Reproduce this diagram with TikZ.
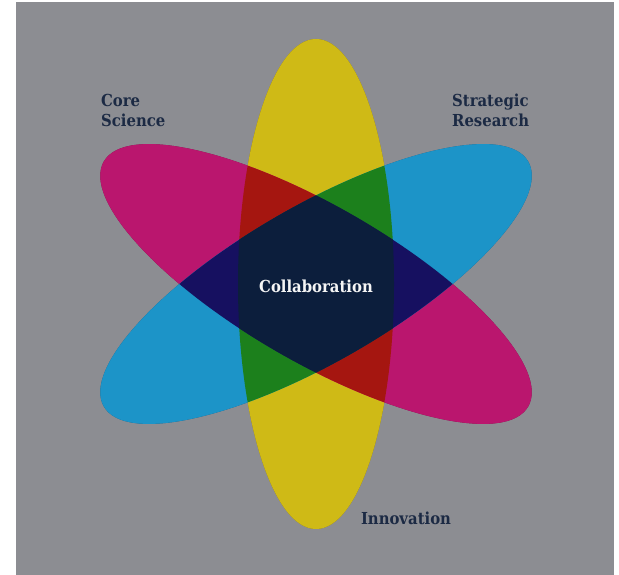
\documentclass[tikz,border=0pt]{standalone}
\usepackage{fontspec}
\newfontfamily\labelfont{DejaVu Serif Condensed}
\definecolor{paper}{RGB}{140,141,146}
\definecolor{ink}{RGB}{28,42,68}
\definecolor{yel}{RGB}{207,186,22}
\definecolor{mag}{RGB}{186,22,110}
\definecolor{cya}{RGB}{28,148,200}
\definecolor{yelshade}{RGB}{140,122,12}
\definecolor{magshade}{RGB}{120,12,66}
\definecolor{cyashade}{RGB}{14,92,135}
\definecolor{redmix}{RGB}{165,22,16}
\definecolor{greenmix}{RGB}{28,128,28}
\definecolor{bluemix}{RGB}{22,16,96}
\definecolor{core}{RGB}{12,30,60}

\begin{document}
\begin{tikzpicture}[x=0.05cm,y=0.05cm]
	\tikzset{ring/.style={x radius=78,y radius=245},
		tag/.style={font=\labelfont\bfseries\fontsize{23.5}{28.5}\selectfont,text=ink,align=left,inner sep=0pt}}
	\useasboundingbox (0,0) rectangle (619,575);
	\fill[paper] (16,0) rectangle (614,573);
	\coordinate (C) at (316,291);
	% shadows, then the three rings
	\foreach \ang/\col in {0/yelshade,60/magshade,-60/cyashade}
		\fill[\col,shift={(0.6,-1.8)},rotate around={\ang:(C)}] (C) ellipse [ring];
	\foreach \ang/\col in {0/yel,60/mag,-60/cya}
		\fill[\col,rotate around={\ang:(C)}] (C) ellipse [ring];
	% overlaps
	\foreach \angA/\angB/\col in {0/60/redmix,0/-60/greenmix,60/-60/bluemix}{
		\begin{scope}
			\clip[rotate around={\angA:(C)}] (C) ellipse [ring];
			\fill[\col,rotate around={\angB:(C)}] (C) ellipse [ring];
		\end{scope}
	}
	\begin{scope}
		\clip (C) ellipse [ring];
		\clip[rotate around={60:(C)}] (C) ellipse [ring];
		\fill[core,rotate around={-60:(C)}] (C) ellipse [ring];
	\end{scope}
	\node[tag,anchor=north west] (core science) at (101,481) {Core\\Science};
	\node[tag,anchor=north west] (strategic) at (452,481) {Strategic\\Research};
	\node[tag] (innovation) at (406,57) {Innovation};
	\node[tag,text=white!92!gray] (collab) at (316,289) {Collaboration};
\end{tikzpicture}
\end{document}
